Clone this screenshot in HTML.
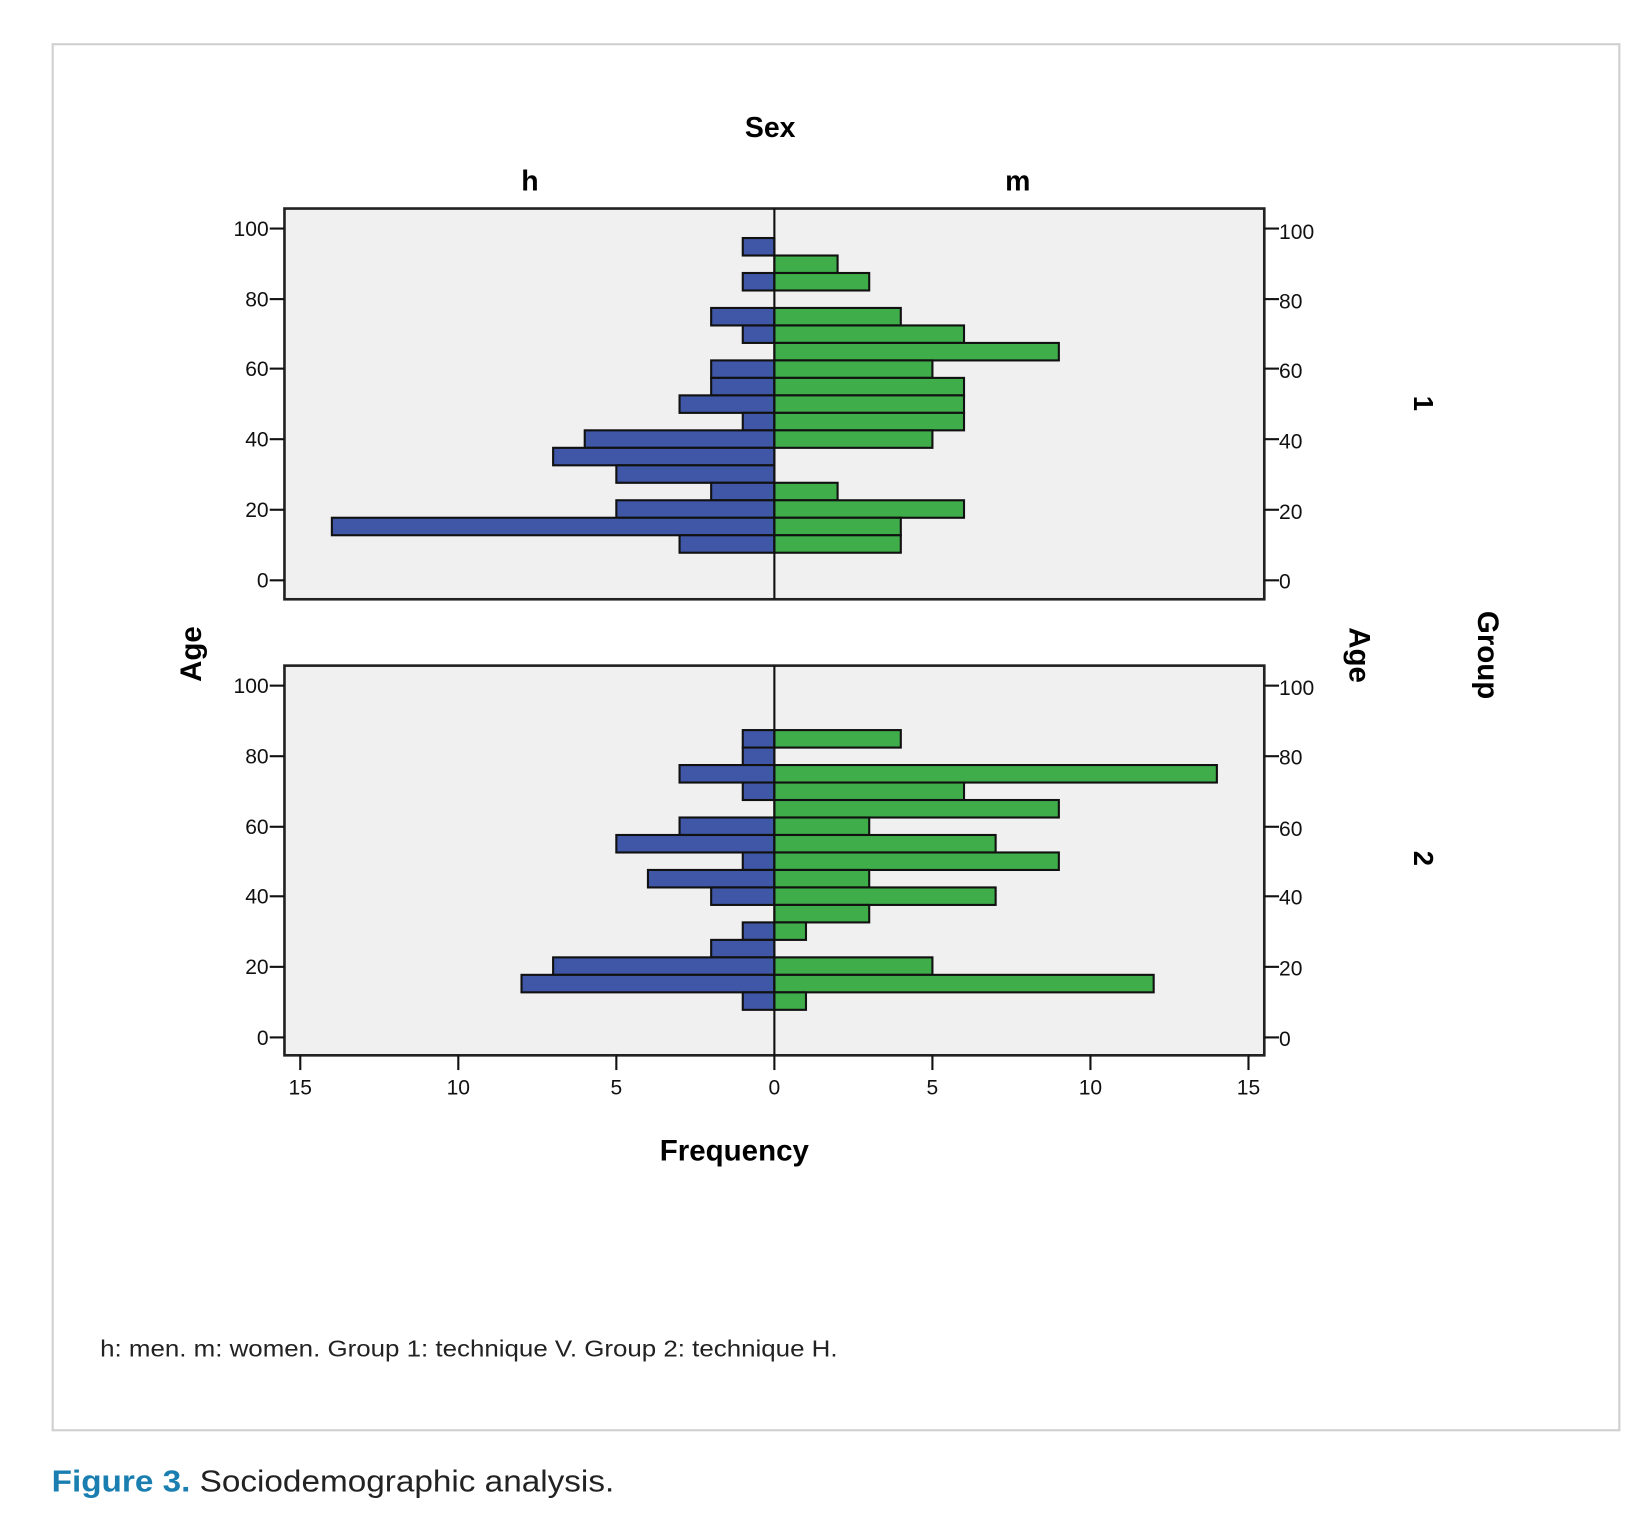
<!DOCTYPE html>
<html><head><meta charset="utf-8"><style>html,body{margin:0;padding:0;background:#fff}svg{display:block}</style></head><body>
<svg width="1652" height="1524" viewBox="0 0 1568 1447" preserveAspectRatio="none" xmlns="http://www.w3.org/2000/svg" font-family="Liberation Sans, sans-serif">
<rect x="50" y="42" width="1487" height="1316" fill="#fff" stroke="#cfcfcf" stroke-width="2"/>
<text x="731" y="130" font-size="27" font-weight="bold" text-anchor="middle">Sex</text>
<text x="503" y="181" font-size="27" font-weight="bold" text-anchor="middle">h</text>
<text x="966" y="181" font-size="27" font-weight="bold" text-anchor="middle">m</text>
<rect x="270" y="198" width="930" height="371" fill="#f0f0f0" stroke="#222" stroke-width="2.5"/>
<rect x="270" y="632" width="930" height="370" fill="#f0f0f0" stroke="#222" stroke-width="2.5"/>
<g stroke="#111" stroke-width="2">
<g fill="#3f57a6">
<rect x="705" y="226" width="30" height="16.6"/>
<rect x="705" y="259.2" width="30" height="16.6"/>
<rect x="675" y="292.4" width="60" height="16.6"/>
<rect x="705" y="309" width="30" height="16.6"/>
<rect x="675" y="342.2" width="60" height="16.6"/>
<rect x="675" y="358.8" width="60" height="16.6"/>
<rect x="645" y="375.4" width="90" height="16.6"/>
<rect x="705" y="392" width="30" height="16.6"/>
<rect x="555" y="408.6" width="180" height="16.6"/>
<rect x="525" y="425.2" width="210" height="16.6"/>
<rect x="585" y="441.8" width="150" height="16.6"/>
<rect x="675" y="458.4" width="60" height="16.6"/>
<rect x="585" y="475" width="150" height="16.6"/>
<rect x="315" y="491.6" width="420" height="16.6"/>
<rect x="645" y="508.2" width="90" height="16.6"/>
</g>
<g fill="#3fae4a">
<rect x="735" y="242.6" width="60" height="16.6"/>
<rect x="735" y="259.2" width="90" height="16.6"/>
<rect x="735" y="292.4" width="120" height="16.6"/>
<rect x="735" y="309" width="180" height="16.6"/>
<rect x="735" y="325.6" width="270" height="16.6"/>
<rect x="735" y="342.2" width="150" height="16.6"/>
<rect x="735" y="358.8" width="180" height="16.6"/>
<rect x="735" y="375.4" width="180" height="16.6"/>
<rect x="735" y="392" width="180" height="16.6"/>
<rect x="735" y="408.6" width="150" height="16.6"/>
<rect x="735" y="458.4" width="60" height="16.6"/>
<rect x="735" y="475" width="180" height="16.6"/>
<rect x="735" y="491.6" width="120" height="16.6"/>
<rect x="735" y="508.2" width="120" height="16.6"/>
</g>
<g fill="#3f57a6">
<rect x="705" y="693.2" width="30" height="16.6"/>
<rect x="705" y="709.8" width="30" height="16.6"/>
<rect x="645" y="726.4" width="90" height="16.6"/>
<rect x="705" y="743" width="30" height="16.6"/>
<rect x="645" y="776.2" width="90" height="16.6"/>
<rect x="585" y="792.8" width="150" height="16.6"/>
<rect x="705" y="809.4" width="30" height="16.6"/>
<rect x="615" y="826" width="120" height="16.6"/>
<rect x="675" y="842.6" width="60" height="16.6"/>
<rect x="705" y="875.8" width="30" height="16.6"/>
<rect x="675" y="892.4" width="60" height="16.6"/>
<rect x="525" y="909" width="210" height="16.6"/>
<rect x="495" y="925.6" width="240" height="16.6"/>
<rect x="705" y="942.2" width="30" height="16.6"/>
</g>
<g fill="#3fae4a">
<rect x="735" y="693.2" width="120" height="16.6"/>
<rect x="735" y="726.4" width="420" height="16.6"/>
<rect x="735" y="743" width="180" height="16.6"/>
<rect x="735" y="759.6" width="270" height="16.6"/>
<rect x="735" y="776.2" width="90" height="16.6"/>
<rect x="735" y="792.8" width="210" height="16.6"/>
<rect x="735" y="809.4" width="270" height="16.6"/>
<rect x="735" y="826" width="90" height="16.6"/>
<rect x="735" y="842.6" width="210" height="16.6"/>
<rect x="735" y="859.2" width="90" height="16.6"/>
<rect x="735" y="875.8" width="30" height="16.6"/>
<rect x="735" y="909" width="150" height="16.6"/>
<rect x="735" y="925.6" width="360" height="16.6"/>
<rect x="735" y="942.2" width="30" height="16.6"/>
</g>
</g>
<g stroke="#111" stroke-width="2">
<line x1="735" y1="198" x2="735" y2="569"/>
<line x1="735" y1="632" x2="735" y2="1002"/>
<line x1="256" y1="217" x2="270" y2="217"/><line x1="256" y1="284" x2="270" y2="284"/><line x1="256" y1="350" x2="270" y2="350"/><line x1="256" y1="417" x2="270" y2="417"/><line x1="256" y1="484" x2="270" y2="484"/><line x1="256" y1="551" x2="270" y2="551"/>
<line x1="256" y1="651" x2="270" y2="651"/><line x1="256" y1="718" x2="270" y2="718"/><line x1="256" y1="785" x2="270" y2="785"/><line x1="256" y1="851" x2="270" y2="851"/><line x1="256" y1="918" x2="270" y2="918"/><line x1="256" y1="985" x2="270" y2="985"/>
<line x1="1200" y1="217" x2="1214" y2="217"/><line x1="1200" y1="284" x2="1214" y2="284"/><line x1="1200" y1="350" x2="1214" y2="350"/><line x1="1200" y1="417" x2="1214" y2="417"/><line x1="1200" y1="484" x2="1214" y2="484"/><line x1="1200" y1="551" x2="1214" y2="551"/>
<line x1="1200" y1="651" x2="1214" y2="651"/><line x1="1200" y1="718" x2="1214" y2="718"/><line x1="1200" y1="785" x2="1214" y2="785"/><line x1="1200" y1="851" x2="1214" y2="851"/><line x1="1200" y1="918" x2="1214" y2="918"/><line x1="1200" y1="985" x2="1214" y2="985"/>
<line x1="285" y1="1002" x2="285" y2="1016"/><line x1="435" y1="1002" x2="435" y2="1016"/><line x1="585" y1="1002" x2="585" y2="1016"/><line x1="735" y1="1002" x2="735" y2="1016"/><line x1="885" y1="1002" x2="885" y2="1016"/><line x1="1035" y1="1002" x2="1035" y2="1016"/><line x1="1185" y1="1002" x2="1185" y2="1016"/>
</g>
<g font-size="20" fill="#111" text-anchor="end">
<text x="255" y="224">100</text><text x="255" y="291">80</text><text x="255" y="357">60</text><text x="255" y="424">40</text><text x="255" y="491">20</text><text x="255" y="558">0</text>
<text x="255" y="658">100</text><text x="255" y="725">80</text><text x="255" y="792">60</text><text x="255" y="858">40</text><text x="255" y="925">20</text><text x="255" y="992">0</text>
</g>
<g font-size="20" fill="#111">
<text x="1214" y="227">100</text><text x="1214" y="293">80</text><text x="1214" y="359">60</text><text x="1214" y="426">40</text><text x="1214" y="493">20</text><text x="1214" y="559">0</text>
<text x="1214" y="660">100</text><text x="1214" y="726">80</text><text x="1214" y="794">60</text><text x="1214" y="859">40</text><text x="1214" y="926">20</text><text x="1214" y="993">0</text>
</g>
<g font-size="20" fill="#111" text-anchor="middle">
<text x="285" y="1039">15</text><text x="435" y="1039">10</text><text x="585" y="1039">5</text><text x="735" y="1039">0</text><text x="885" y="1039">5</text><text x="1035" y="1039">10</text><text x="1185" y="1039">15</text>
</g>
<text x="697" y="1102" font-size="28" font-weight="bold" text-anchor="middle">Frequency</text>
<text transform="translate(191,621) rotate(-90)" font-size="28" font-weight="bold" text-anchor="middle">Age</text>
<text transform="translate(1281,622) rotate(90)" font-size="28" font-weight="bold" text-anchor="middle">Age</text>
<text transform="translate(1403,622) rotate(90)" font-size="28" font-weight="bold" text-anchor="middle">Group</text>
<text transform="translate(1342,383) rotate(90)" font-size="26" font-weight="bold" text-anchor="middle">1</text>
<text transform="translate(1342,815) rotate(90)" font-size="26" font-weight="bold" text-anchor="middle">2</text>
<text x="95" y="1288" font-size="22" fill="#222" textLength="700" lengthAdjust="spacingAndGlyphs">h: men. m: women. Group 1: technique V. Group 2: technique H.</text>
<text x="49" y="1416" font-size="29" fill="#222" textLength="534" lengthAdjust="spacingAndGlyphs"><tspan fill="#1a7fb0" font-weight="bold">Figure 3.</tspan> Sociodemographic analysis.</text>
</svg>
</body></html>
